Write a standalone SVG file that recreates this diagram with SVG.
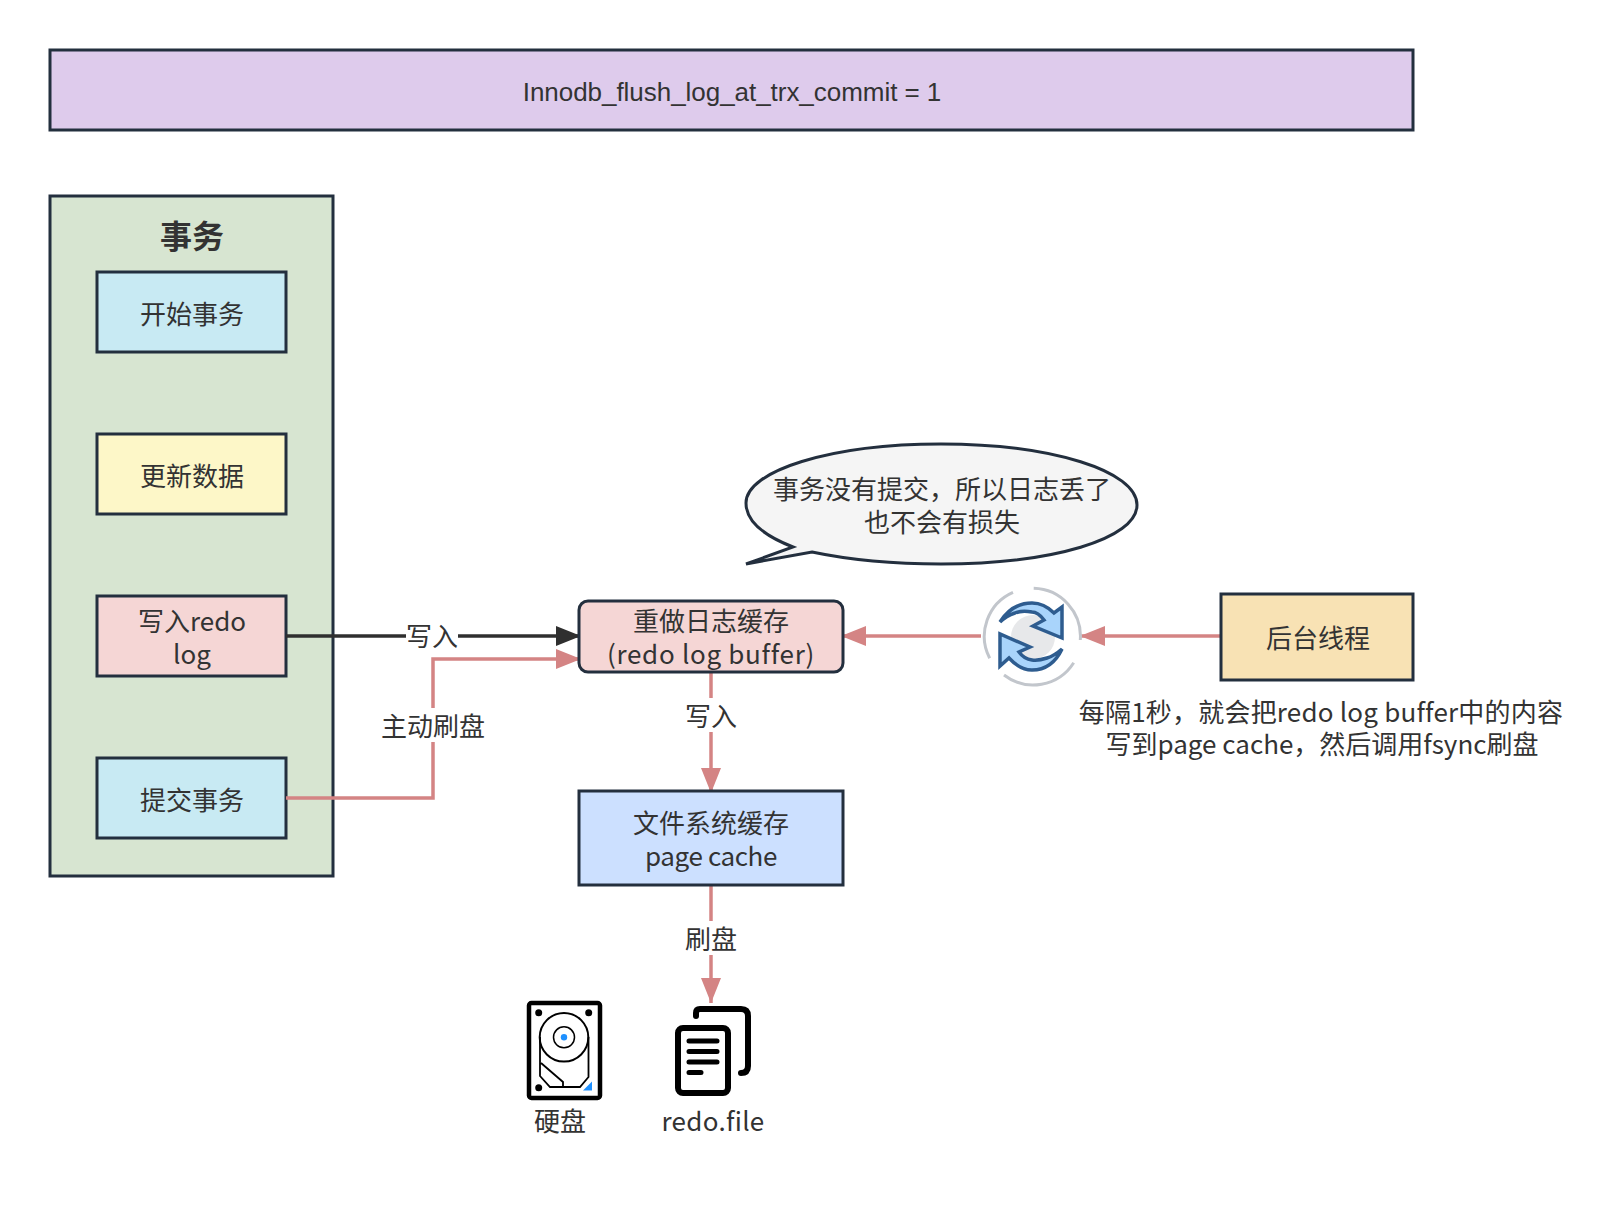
<svg xmlns="http://www.w3.org/2000/svg" width="1620" height="1208" viewBox="0 0 1620 1208">
<style>
text{font-family:"Noto Sans CJK SC","Noto Sans",sans-serif;font-size:26px;fill:#333;text-anchor:middle;dominant-baseline:central}
.b{stroke:#232f3e;stroke-width:3}
.e{fill:none;stroke:#d48484;stroke-width:3.5}
.k{fill:none;stroke:#2f2f2f;stroke-width:3.500}
.bg{fill:#fff}
</style>
<defs>
<marker id="ap" markerUnits="userSpaceOnUse" markerWidth="26" markerHeight="22" refX="25" refY="11" orient="auto"><path d="M0 1L25 11L0 21Z" fill="#d48484"/></marker>
<marker id="ak" markerUnits="userSpaceOnUse" markerWidth="26" markerHeight="22" refX="25" refY="11" orient="auto"><path d="M0 1L25 11L0 21Z" fill="#2f2f2f"/></marker>
</defs>
<rect width="1620" height="1208" fill="#fff"/>
<g id="banner"><rect class="b" x="50" y="50" width="1363" height="80" fill="#decbec"/><text x="732" y="92" style="font-family:'Liberation Sans',Arial,sans-serif;letter-spacing:-.04px">Innodb_flush_log_at_trx_commit = 1</text></g>
<g id="tx-group"><rect class="b" x="50" y="196" width="283" height="680" fill="#d7e5d1"/><text x="192" y="234" style="font-size:32px;font-weight:700">事务</text></g>
<g id="n-start"><rect class="b" x="97" y="272" width="189" height="80" fill="#c8eaf3"/><text x="192" y="312">开始事务</text></g>
<g id="n-update"><rect class="b" x="97" y="434" width="189" height="80" fill="#fdf7c8"/><text x="192" y="474">更新数据</text></g>
<g id="n-write"><rect class="b" x="97" y="596" width="189" height="80" fill="#f5d6d5"/><text><tspan x="192" y="619">写入redo</tspan><tspan x="192" y="652">log</tspan></text></g>
<g id="n-commit"><rect class="b" x="97" y="758" width="189" height="80" fill="#c8eaf3"/><text x="192" y="798">提交事务</text></g>
<g id="connectors">
<path class="k" d="M286 636H581" marker-end="url(#ak)"/>
<path class="e" d="M286 798H433V659H581" marker-end="url(#ap)"/>
<path class="e" d="M711 672V793" marker-end="url(#ap)"/>
<path class="e" d="M711 885V1003" marker-end="url(#ap)"/>
<path class="e" d="M1221 636H1080" marker-end="url(#ap)"/>
<path class="e" d="M981 636H841" marker-end="url(#ap)"/>
<rect class="bg" x="406" y="620" width="52" height="32"/><text x="432" y="634">写入</text>
<rect class="bg" x="380" y="708" width="106" height="34"/><text x="433" y="724">主动刷盘</text>
<rect class="bg" x="685" y="698" width="52" height="34"/><text x="711" y="714">写入</text>
<rect class="bg" x="685" y="921" width="52" height="34"/><text x="711" y="937">刷盘</text>
</g>
<g id="n-redo"><rect class="b" x="579" y="601" width="264" height="71" rx="9" fill="#f5d6d5"/><text><tspan x="711" y="619">重做日志缓存</tspan><tspan x="711" y="652" style="letter-spacing:.7px">(redo log buffer)</tspan></text></g>
<g id="n-cache"><rect class="b" x="579" y="791" width="264" height="94" fill="#cce0ff"/><text><tspan x="711" y="821">文件系统缓存</tspan><tspan x="711" y="854" style="letter-spacing:-.4px">page cache</tspan></text></g>
<g id="n-bubble"><path class="b" fill="#f5f5f5" d="M746 564L793 547C762 535 746 520 746 503C746 471 830 444 941 444C1052 444 1137 471 1137 505C1137 539 1052 564 941 564C890 564 850 560 812 552Z"/><text><tspan x="942" y="487">事务没有提交，所以日志丢了</tspan><tspan x="942" y="520">也不会有损失</tspan></text></g>
<g id="n-sync" transform="translate(1032 636)">
<circle r="22" cx="1" cy="1" fill="#e7e8ea"/>
<path fill="none" stroke="#c2c6cc" stroke-width="3" d="M1.7 -47.7A48 48 0 0 1 48.3 4M41.7 26.7A48 48 0 0 1 -28 39M-42.3 22.3A48 48 0 0 1 -19 -43.7"/>
<path fill="#a9d4fb" stroke="#2e5c8f" stroke-width="3.5" d="M-32 -14Q-20 -33 0 -33Q12 -33 22 -23L30 -29V2L1 -10L12 -16Q6 -24 0 -24Q-10 -26 -17 -23Q-26 -20 -32 -14Z"/>
<path fill="#a9d4fb" stroke="#2e5c8f" stroke-width="3.5" d="M-32 -2V30L-23 22Q-12 34 0 34Q20 34 30 13Q22 20 15 22Q6 25 0 24Q-8 23 -13 16L-2 11Z"/>
</g>
<g id="n-thread"><rect class="b" x="1221" y="594" width="192" height="86" fill="#f8e2b4"/><text x="1318" y="636">后台线程</text></g>
<g id="n-note"><text><tspan x="1321" y="710" style="letter-spacing:.2px">每隔1秒，就会把redo log buffer中的内容</tspan><tspan x="1322" y="742">写到page cache，然后调用fsync刷盘</tspan></text></g>
<g id="n-disk">
<rect x="529" y="1003" width="71" height="95" rx="2.5" fill="none" stroke="#000" stroke-width="4.5"/>
<circle cx="538.7" cy="1012.7" r="3.5"/><circle cx="588.7" cy="1012.7" r="3.5"/><circle cx="538.7" cy="1087.7" r="3.5"/>
<circle cx="564" cy="1037.3" r="24.3" fill="none" stroke="#000" stroke-width="2"/>
<circle cx="564" cy="1037.3" r="10.5" fill="none" stroke="#000" stroke-width="1.5"/>
<circle cx="564" cy="1037.3" r="3.2" fill="#1e90ff"/>
<path fill="none" stroke="#000" stroke-width="1.8" d="M540 1037V1076L550 1087H580L588.500 1077V1037M541 1063L563 1082V1086"/>
<path fill="#1e90ff" d="M583 1090.500L592 1081.500V1090.500Z"/>
<text x="560" y="1119">硬盘</text></g>
<g id="n-file">
<path fill="none" stroke="#000" stroke-width="6" stroke-linecap="round" d="M696 1016V1013Q696 1009 700 1009H741Q748 1009 748 1016V1066Q748 1073 741 1073"/>
<rect x="678" y="1028" width="50" height="65" rx="5" fill="none" stroke="#000" stroke-width="6"/>
<path fill="none" stroke="#000" stroke-width="5" stroke-linecap="round" d="M689 1041H717M689 1051.500H717M689 1062H717M689 1072.500H701"/>
<text style="letter-spacing:.3px" x="713" y="1119">redo.file</text></g>
</svg>
